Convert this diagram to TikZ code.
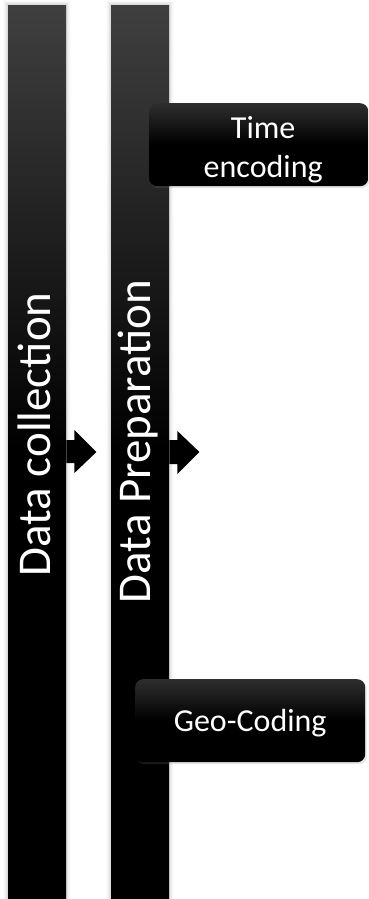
\documentclass[tikz,border=0pt]{standalone}
\usepackage{fontspec}
\setmainfont{Carlito}
\usetikzlibrary{calc,shadows,backgrounds}

\begin{document}
\begin{tikzpicture}[x=1pt,y=-1pt,
  stagebar/.style={rectangle, draw=none, inner sep=0pt, anchor=north west,
    minimum width=58pt, minimum height=894pt,
    top color=black!75, bottom color=black, middle color=black},
  stagelabel/.style={text=white, rotate=90, anchor=base, inner sep=0pt,
    font=\fontsize{47}{56}\selectfont},
  taskbox/.style={rectangle, rounded corners=8pt, draw=none, inner sep=0pt,
    anchor=north west, minimum height=83pt,
    top color=black!82, bottom color=black, middle color=black,
    drop shadow={shadow xshift=1.5pt, shadow yshift=-2pt, opacity=0.2}},
  tasklabel/.style={text=white, anchor=base, align=center, inner sep=0pt,
    font=\fontsize{32}{39}\selectfont},
  flowarrow/.style={fill=black, draw=none}
]
\useasboundingbox (0,0) rectangle (369,899);

% the two process stages
\node[stagebar] (collectbar) at (8,5) {};
\node[stagebar] (prepbar) at (111,5) {};

% soft halo around the stage bars
\begin{scope}[on background layer]
  \foreach \b in {collectbar,prepbar}{
    \foreach \d/\o in {1/0.05,2/0.04,3/0.03,4/0.02,5/0.01}{
      \fill[black, opacity=\o]
        ($(\b.north west)+(-\d,-\d)$) rectangle ($(\b.south east)+(\d,\d)$);
    }
  }
\end{scope}

\node[stagelabel] (collecttext) at (50,434.5) {Data collection};
\node[stagelabel] (preptext) at (150,441.5) {Data Preparation};

% block arrows leaving each stage
\coordinate (a1) at (collectbar.east |- 0,440);
\fill[flowarrow] (a1) -- ++(8,0) -- ++(0,-10) -- ++(22,22) -- ++(-22,21)
  -- ++(0,-10) -- ++(-8,0) -- cycle;
\coordinate (a2) at (prepbar.east |- 0,440);
\fill[flowarrow] (a2) -- ++(8,0) -- ++(0,-9) -- ++(22,21) -- ++(-22,22)
  -- ++(0,-10) -- ++(-8,0) -- cycle;

% sub-steps of data preparation
\node[taskbox, minimum width=219pt] (timebox) at (149,103) {};
\node[tasklabel] (timetext) at ($(timebox.center)+(4.5,32.5)$) {Time\\encoding};

\node[taskbox, minimum width=230pt] (geobox) at (135,679) {};
\node[tasklabel] (geotext) at ($(geobox.center)+(0,10.5)$) {Geo-Coding};
\end{tikzpicture}
\end{document}
